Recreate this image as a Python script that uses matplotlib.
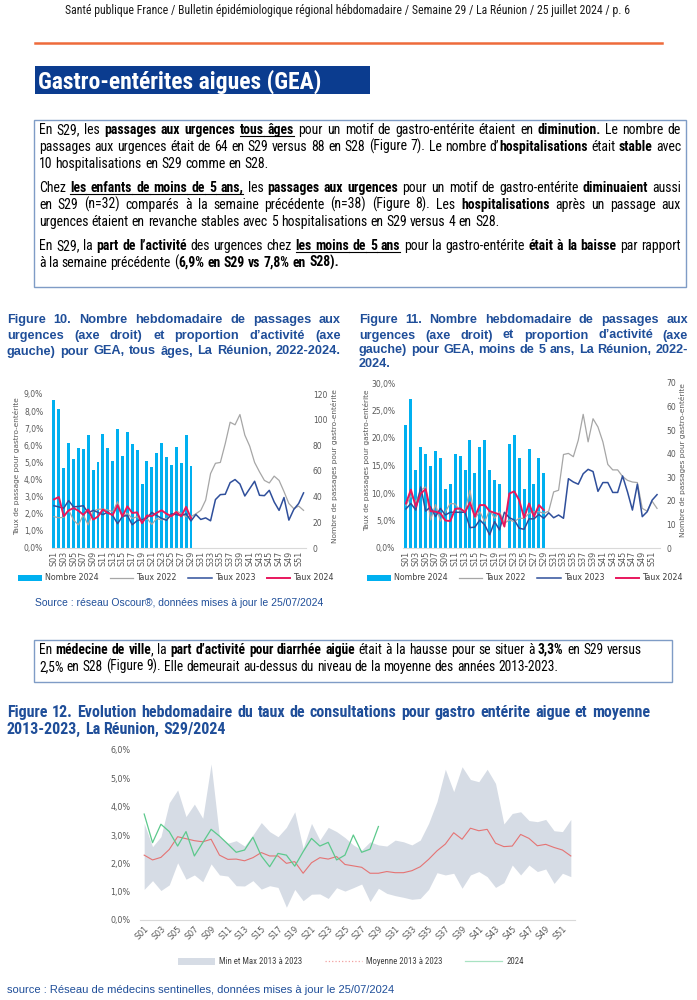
import matplotlib
matplotlib.use('Agg')
import matplotlib.pyplot as plt
from matplotlib import font_manager
from matplotlib.lines import Line2D
from matplotlib.patches import Patch, Rectangle
from matplotlib.ticker import FuncFormatter
import numpy as np

W, H = 697, 1000

# semaines
semaines = ['S%02d' % i for i in range(1, 53)]
sem_num = list(range(1, 53))

# Figure 10 - tous âges (nombre de passages = axe droit, taux en % = axe gauche)
fig10_nombre_2024 = [115, 108, 62, 82, 69, 78, 77, 88, 61, 67, 89, 78, 68, 93, 72,
                     90, 81, 76, 50, 68, 63, 74, 82, 71, 65, 79, 66, 88, 64]
fig10_taux_2024 = [2.84, 2.98, 1.86, 2.2, 2.33, 2.18, 1.94, 2.25, 1.66, 1.84, 2.25, 2.05, 1.93, 2.5, 1.85,
                   2.43, 2.05, 2.08, 1.45, 1.9, 1.86, 2.06, 2.2, 2.0, 1.86, 2.1, 1.85, 2.4, 1.74]
fig10_taux_2023 = [2.47, 2.4, 2.33, 2.77, 2.4, 2.43, 2.47, 2.05, 2.2, 2.08, 1.95, 2.1, 1.9, 1.42, 1.85,
                   1.9, 1.36, 1.6, 1.66, 1.75, 2.08, 1.9, 1.73, 1.62, 2.0, 1.95, 1.9, 2.0, 1.58,
                   1.96, 1.67, 1.76, 1.59, 2.83, 3.12, 3.14, 3.82, 4.0, 3.74, 3.04, 3.47, 3.9, 3.08,
                   3.06, 3.37, 2.69, 2.2, 2.95, 1.63, 2.25, 2.6, 3.22]
fig10_taux_2022 = [1.83, 1.77, 1.79, 2.22, 1.64, 1.35, 1.93, 1.35, 2.16, 2.26, 2.28, 2.22, 2.12, 2.7, 1.83,
                   2.03, 1.73, 1.83, 1.54, 1.73, 1.38, 1.73, 1.64, 1.73, 1.83, 2.16, 2.03, 1.83, 1.83,
                   2.0, 2.2, 2.8, 4.35, 4.95, 5.0, 6.1, 7.35, 7.2, 7.8, 6.6, 5.95, 5.0, 4.45,
                   3.95, 3.8, 4.2, 3.95, 3.3, 2.6, 2.3, 2.45, 2.2]

# Figure 11 - moins de 5 ans
fig11_nombre_2024 = [52, 63, 33, 43, 40, 35, 41, 38, 25, 27, 40, 39, 33, 46, 32,
                     43, 46, 33, 29, 27, np.nan, 44, 48, 38, 25, 42, 27, 38, 32]
fig11_taux_2024 = [8.1, 10.6, 7.5, 9.9, 10.7, 6.7, 6.6, 6.3, 5.0, 4.9, 7.1, 7.2, 6.5, 8.3, 5.7,
                   7.8, 7.8, 6.7, 6.4, 6.1, 3.9, 9.9, 10.3, 8.7, 5.5, 8.1, 5.7, 7.8, 6.9]
fig11_taux_2023 = [7.1, 8.1, 6.9, 11.1, 6.7, 7.5, 5.7, 7.2, 6.0, 6.5, 6.5, 6.5, 6.5, 3.7, 3.8,
                   5.1, 4.2, 2.4, 4.8, 3.3, 6.5, 5.5, 5.1, 3.6, 3.4, 5.3, 5.3, 6.1, 5.4,
                   6.4, 5.5, 6.0, 5.4, 12.6, 12.0, 11.6, 13.5, 14.3, 13.9, 10.3, 11.9, 11.9, 10.1,
                   10.1, 13.1, 10.2, 6.9, 11.6, 5.7, 6.6, 8.7, 9.7]
fig11_taux_2022 = [7.7, 9.5, 8.4, 10.5, 11.1, 5.1, 7.9, 4.9, 6.6, 8.1, 8.0, 6.7, 6.9, 10.5, 5.4,
                   6.6, 4.8, 6.9, 5.4, 6.6, 4.5, 5.1, 4.8, 5.4, 5.4, 6.3, 6.6, 6.6, 6.3,
                   6.7, 10.2, 10.5, 17.0, 17.2, 16.6, 19.6, 24.3, 19.3, 23.5, 22.0, 19.3, 15.2, 14.2,
                   14.2, 13.0, 12.3, 12.0, 11.9, 7.2, 6.7, 8.5, 7.2]

# Figure 12 - médecins sentinelles
fig12_max = [3.41, 2.59, 2.94, 4.14, 4.59, 3.65, 4.09, 3.59, 5.51, 2.94, 2.71, 2.8, 2.61, 3.0, 3.44,
             3.12, 2.94, 3.27, 3.82, 2.53, 3.41, 2.82, 3.27, 3.12, 2.91, 2.65, 2.47, 2.76, 2.65,
             2.61, 2.82, 2.76, 2.65, 2.82, 3.41, 4.18, 5.32, 4.53, 5.41, 4.96, 4.88, 5.32, 4.82,
             3.39, 3.76, 3.82, 3.51, 3.47, 3.55, 3.15, 3.12, 3.55]
fig12_min = [1.08, 1.39, 1.04, 1.24, 2.02, 1.44, 1.59, 1.35, 1.98, 1.59, 1.55, 1.21, 1.2, 1.39, 1.09,
             1.21, 1.15, 0.45, 1.08, 0.68, 0.91, 0.92, 0.76, 1.14, 1.02, 1.14, 1.27, 0.65, 1.12,
             0.94, 0.86, 0.8, 0.73, 0.76, 1.08, 1.67, 1.59, 1.65, 1.12, 1.59, 1.71, 1.53, 1.15,
             1.32, 1.94, 1.59, 1.94, 1.71, 1.8, 1.29, 1.65, 1.53]
fig12_moyenne = [2.29, 2.12, 2.21, 2.49, 2.94, 2.87, 2.8, 2.76, 2.85, 2.29, 2.14, 2.15, 2.09, 2.2, 2.38,
                 2.26, 2.26, 2.0, 2.06, 1.65, 2.02, 2.2, 2.15, 2.24, 1.96, 1.91, 1.86, 1.65, 1.65,
                 1.71, 1.67, 1.67, 1.74, 1.88, 2.14, 2.44, 2.68, 3.08, 2.85, 3.24, 3.15, 3.2, 2.71,
                 2.59, 2.61, 3.02, 2.88, 2.62, 2.67, 2.56, 2.47, 2.26]
fig12_2024 = [3.74, 2.73, 3.38, 3.12, 2.61, 3.12, 2.26, 2.73, 3.2, 2.96, 2.68, 2.39, 2.47, 2.92, 2.26,
              1.88, 2.35, 2.29, 1.9, 2.41, 2.88, 2.61, 2.74, 2.12, 2.29, 3.0, 2.39, 2.5, 3.3]

# polices
avail = {f.name for f in font_manager.fontManager.ttflist}
NARROW = None
for nom in ['Liberation Sans Narrow', 'Arial Narrow', 'Roboto Condensed', 'DejaVu Sans Condensed']:
    if nom in avail:
        NARROW = nom
        break
SANS = 'Liberation Sans'
BODY = NARROW if NARROW else SANS

BLEU = '#1F4E99'
GRIS = '#595959'
CYAN = '#00B0F0'
C22 = '#A6A6A6'
C23 = '#2F4F9B'
C24 = '#E8175D'

fig = plt.figure(figsize=(W / 100, H / 100), dpi=100)
renderer = fig.canvas.get_renderer()


def fx(x):
    return x / W


def fy(y):
    return 1 - y / H


def measure(s, size, family, weight='normal'):
    t = fig.text(0, 0, s, fontsize=size, family=family, fontweight=weight)
    w = t.get_window_extent(renderer).width
    t.remove()
    return w


def fit_size(s, width, family, weight='normal'):
    return 10 * width / measure(s, 10, family, weight)


def split_words(runs):
    words = [[]]
    for txt, st in runs:
        for j, p in enumerate(txt.split(' ')):
            if j > 0:
                words.append([])
            if p:
                words[-1].append((p, st))
    return [w for w in words if w]


def paragraph(lines, x0, x1, baselines, size, family, color='black'):
    parsed = [(split_words(runs), just) for runs, just in lines]

    def widths(words, sz):
        return [[measure(p, sz, family, 'bold' if 'b' in st else 'normal') for p, st in w] for w in words]

    ratios = []
    sp = measure('a a', size, family) - measure('aa', size, family)
    for words, just in parsed:
        if just:
            nat = sum(map(sum, widths(words, size))) + sp * (len(words) - 1)
            ratios.append((x1 - x0) * 0.985 / nat)
    if ratios:
        size = size * min(1.12, max(0.6, min(ratios)))
    sp = measure('a a', size, family) - measure('aa', size, family)
    for (words, just), yb in zip(parsed, baselines):
        ws = widths(words, size)
        tot = sum(map(sum, ws))
        gap = (x1 - x0 - tot) / (len(words) - 1) if (just and len(words) > 1) else sp
        x = x0
        u_end = None
        for w, wl in zip(words, ws):
            for (p, st), pw in zip(w, wl):
                fig.text(fx(x), fy(yb), p, fontsize=size, family=family, color=color,
                         fontweight='bold' if 'b' in st else 'normal', va='baseline', ha='left')
                if 'u' in st:
                    xs = x if u_end is None else u_end
                    fig.add_artist(Line2D([fx(xs), fx(x + pw)], [fy(yb + 1.8)] * 2, color=color, lw=0.8))
                    u_end = x + pw
                else:
                    u_end = None
                x += pw
            x += gap
    return size


def pct(v, p):
    return ('%.1f%%' % v).replace('.', ',')


# En-tête
entete = 'Santé publique France / Bulletin épidémiologique régional hébdomadaire / Semaine 29 / La Réunion / 25 juillet 2024 / p. 6'
fig.text(fx(348), fy(14), entete, ha='center', va='baseline', family=BODY,
         fontsize=fit_size(entete, 564, BODY), color='#1a1a1a')
fig.add_artist(Line2D([fx(35), fx(662)], [fy(43), fy(43)], color='#EE6B3B', lw=1.8))

titre = 'Gastro-entérites aigues (GEA)'
fig.add_artist(Rectangle((fx(35), fy(94)), (370 - 35) / W, 28 / H, transform=fig.transFigure,
                         facecolor='#0B3C8F', edgecolor='none'))
fig.text(fx(38), fy(88.5), titre, ha='left', va='baseline', family=BODY, fontweight='bold',
         color='white', fontsize=min(17, fit_size(titre, 328, BODY, 'bold')))

# Encadré 1
fig.add_artist(Rectangle((fx(34), fy(287)), (686 - 34) / W, (287 - 120) / H, transform=fig.transFigure,
                         facecolor='none', edgecolor='#7F9CC6', lw=1))
box1 = [
    ([('En S29, les ', ''), ('passages aux urgences', 'b'), (' ', ''), ('tous âges', 'bu'),
      (' pour un motif de gastro-entérite étaient en ', ''), ('diminution.', 'b'), (' Le nombre de', '')], True),
    ([('passages aux urgences était de 64 en S29 versus 88 en S28 (Figure 7). Le nombre d’', ''),
      ('hospitalisations', 'b'), (' était ', ''), ('stable', 'b'), (' avec', '')], True),
    ([('10 hospitalisations en S29 comme en S28.', '')], False),
    ([('Chez ', ''), ('les enfants de moins de 5 ans,', 'bu'), (' les ', ''), ('passages aux urgences', 'b'),
      (' pour un motif de gastro-entérite ', ''), ('diminuaient', 'b'), (' aussi', '')], True),
    ([('en S29 (n=32) comparés à la semaine précédente (n=38) (Figure 8). Les ', ''),
      ('hospitalisations', 'b'), (' après un passage aux', '')], True),
    ([('urgences étaient en revanche stables avec 5 hospitalisations en S29 versus 4 en S28.', '')], False),
    ([('En S29, la ', ''), ('part de l’activité', 'b'), (' des urgences chez ', ''), ('les moins de 5 ans', 'bu'),
      (' pour la gastro-entérite ', ''), ('était à la baisse', 'b'), (' par rapport', '')], True),
    ([('à la semaine précédente (', ''), ('6,9% en S29 vs 7,8% en S28).', 'b')], False),
]
paragraph(box1, 39, 681, [134, 151, 168, 192, 209, 226, 250, 267], 10, BODY)

# Titres figures 10 et 11
t10 = [
    ([('Figure 10. Nombre hebdomadaire de passages aux', 'b')], True),
    ([('urgences (axe droit) et proportion d’activité (axe', 'b')], True),
    ([('gauche) pour GEA, tous âges, La Réunion, 2022-2024.', 'b')], True),
]
paragraph(t10, 7, 341, [323, 339, 354.5], 9.5, SANS, BLEU)
t11 = [
    ([('Figure 11. Nombre hebdomadaire de passages aux', 'b')], True),
    ([('urgences (axe droit) et proportion d’activité (axe', 'b')], True),
    ([('gauche) pour GEA, moins de 5 ans, La Réunion, 2022-', 'b')], True),
    ([('2024.', 'b')], False),
]
paragraph(t11, 359, 688, [323, 338.5, 353.5, 367.5], 9.5, SANS, BLEU)


def graph_urgences(box, nombre, t22, t23, t24, ymax, ystep, nmax, nstep, lab_g, xg, xd, leg_x):
    left, right, top, bottom = box
    ax = fig.add_axes([fx(left), fy(bottom), (right - left) / W, (bottom - top) / H])
    ax2 = ax.twinx()
    ax2.bar(sem_num[:len(nombre)], nombre, width=0.6, color=CYAN, linewidth=0)
    ax.plot(sem_num, t22, color=C22, lw=0.9)
    ax.plot(sem_num, t23, color=C23, lw=1.1)
    ax.plot(sem_num[:len(t24)], t24, color=C24, lw=1.4)
    ax.set_zorder(ax2.get_zorder() + 1)
    ax.patch.set_visible(False)
    ax.set_xlim(0.5, 52.5)
    ax.set_ylim(0, ymax)
    ax2.set_ylim(0, nmax)
    for a in (ax, ax2):
        for s in a.spines.values():
            s.set_visible(False)
    ax.spines['bottom'].set_visible(True)
    ax.spines['bottom'].set_color('#D9D9D9')
    ax.spines['bottom'].set_linewidth(0.8)
    ax.set_xticks(sem_num[::2])
    ax.set_xticklabels(semaines[::2], rotation=90)
    ax.set_yticks(np.arange(0, ymax + 0.01, ystep))
    ax.yaxis.set_major_formatter(FuncFormatter(pct))
    ax2.set_yticks(np.arange(0, nmax + 0.01, nstep))
    ax.tick_params(axis='x', length=0, pad=2, labelsize=5.8, labelcolor=GRIS)
    ax.tick_params(axis='y', length=0, pad=6, labelsize=5.5, labelcolor=GRIS)
    ax2.tick_params(axis='y', length=0, pad=5, labelsize=5.5, labelcolor=GRIS)
    mid = (top + bottom) / 2 - 5
    fig.text(fx(xg), fy(mid), lab_g, rotation=90, ha='center', va='center', fontsize=5.3, color=GRIS)
    fig.text(fx(xd), fy(mid), 'Nombre de passages pour gastro-entérite', rotation=90, ha='center',
             va='center', fontsize=5.3, color=GRIS)
    handles = [Patch(facecolor=CYAN, label='Nombre 2024'),
               Line2D([], [], color=C22, lw=0.9, label='Taux 2022'),
               Line2D([], [], color=C23, lw=1.1, label='Taux 2023'),
               Line2D([], [], color=C24, lw=1.4, label='Taux 2024')]
    fig.legend(handles=handles, loc='center', bbox_to_anchor=(fx(leg_x), fy(578)), ncol=4, frameon=False,
               fontsize=5.7, handlelength=3.0, handletextpad=0.4, columnspacing=1.4, labelcolor='#404040')
    return ax


graph_urgences((51.5, 306, 394, 548), fig10_nombre_2024, fig10_taux_2022, fig10_taux_2023, fig10_taux_2024,
               9, 1, 120, 20, 'Taux de passage pour gastro-entérite', 17, 335, 176)
graph_urgences((403.5, 659.5, 383, 548), fig11_nombre_2024, fig11_taux_2022, fig11_taux_2023, fig11_taux_2024,
               30, 5, 70, 10, 'Taux de passages pour gastro-entérite', 367, 683, 525)

src10 = 'Source : réseau Oscour®, données mises à jour le 25/07/2024'
fig.text(fx(35), fy(606), src10, ha='left', va='baseline', family=SANS, color=BLEU,
         fontsize=fit_size(src10, 288, SANS))

# Encadré 2
fig.add_artist(Rectangle((fx(34), fy(682)), (672 - 34) / W, (682 - 640) / H, transform=fig.transFigure,
                         facecolor='none', edgecolor='#7F9CC6', lw=1))
box2 = [
    ([('En ', ''), ('médecine de ville', 'b'), (', la ', ''), ('part d’activité pour diarrhée aigüe', 'b'),
      (' était à la hausse pour se situer à ', ''), ('3,3%', 'b'), (' en S29 versus', '')], True),
    ([('2,5% en S28 (Figure 9). Elle demeurait au-dessus du niveau de la moyenne des années 2013-2023.', '')], False),
]
paragraph(box2, 39, 642, [654, 671], 10, BODY)

# Titre figure 12
t12 = [
    ([('Figure 12. Evolution hebdomadaire du taux de consultations pour gastro entérite aigue et moyenne', 'b')], True),
    ([('2013-2023, La Réunion, S29/2024', 'b')], False),
]
paragraph(t12, 7, 650, [717, 734], 10.5, BODY, BLEU)

# Figure 12
ax12 = fig.add_axes([fx(140), fy(920), (575 - 140) / W, 170 / H])
ax12.fill_between(sem_num, fig12_min, fig12_max, color='#D6DCE5', lw=0)
ax12.plot(sem_num, fig12_moyenne, color='#E57373', lw=0.8)
ax12.plot(sem_num[:len(fig12_2024)], fig12_2024, color='#5CC98C', lw=0.9)
ax12.set_xlim(0.5, 52.5)
ax12.set_ylim(0, 6)
for s in ax12.spines.values():
    s.set_visible(False)
ax12.spines['bottom'].set_visible(True)
ax12.spines['bottom'].set_color('#D9D9D9')
ax12.spines['bottom'].set_linewidth(0.8)
ax12.set_yticks(np.arange(0, 6.01, 1))
ax12.yaxis.set_major_formatter(FuncFormatter(pct))
ax12.set_xticks(sem_num[::2])
ax12.set_xticklabels(semaines[::2], rotation=45, ha='right', rotation_mode='anchor')
ax12.tick_params(axis='x', length=0, pad=3, labelsize=5.8, labelcolor=GRIS)
ax12.tick_params(axis='y', length=0, pad=7, labelsize=5.8, labelcolor=GRIS)
h12 = [Patch(facecolor='#D6DCE5', label='Min et Max 2013 à 2023'),
       Line2D([], [], color='#F2A0A0', lw=0.9, ls=':', label='Moyenne 2013 à 2023'),
       Line2D([], [], color='#A8E2C2', lw=0.9, label='2024')]
fig.legend(handles=h12, loc='center', bbox_to_anchor=(fx(351), fy(962)), ncol=3, frameon=False,
           prop={'family': BODY, 'size': 6.3}, handlelength=4.2, handletextpad=0.5, columnspacing=2.6,
           labelcolor='#404040')

src12 = 'source : Réseau de médecins sentinelles, données mises à jour le 25/07/2024'
fig.text(fx(7), fy(993), src12, ha='left', va='baseline', family=SANS, color=BLEU,
         fontsize=fit_size(src12, 388, SANS))

fig.savefig('out.png', dpi=100)
